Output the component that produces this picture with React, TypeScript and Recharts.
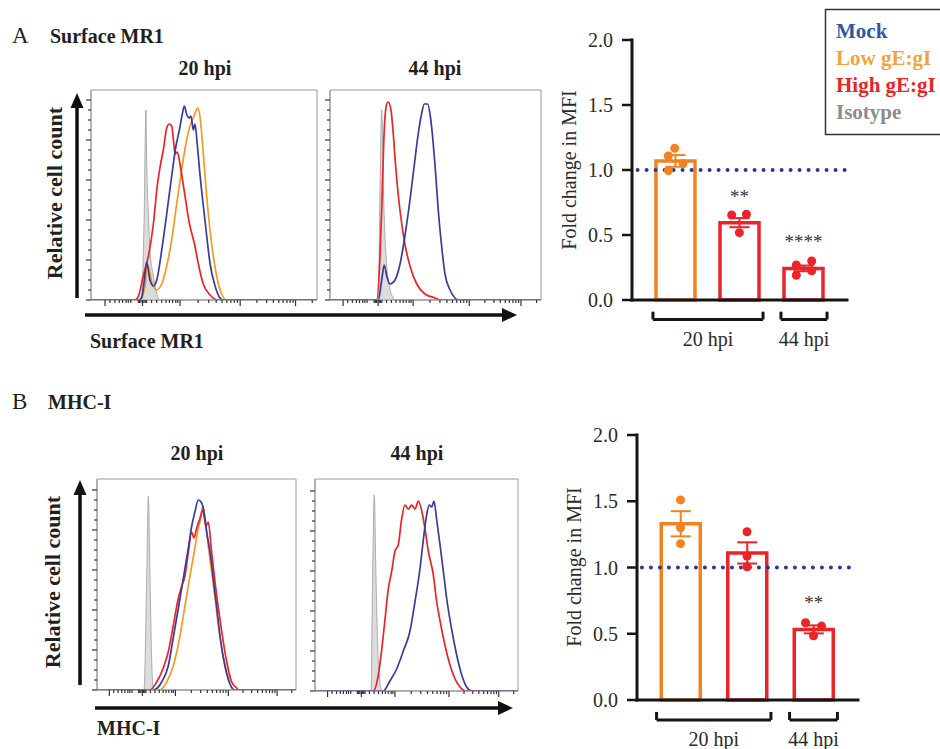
import React from 'react';
import {
  ComposedChart, Line, Area, Bar, Scatter, XAxis, YAxis,
  ReferenceLine, ReferenceArea, ErrorBar, LabelList, Cell,
} from 'recharts';

const SERIF = "'Liberation Serif', 'Times New Roman', serif";

const conditions = ['Mock', 'Low gE:gI', 'High gE:gI', 'Isotype'];
const timepoints = ['20 hpi', '44 hpi'];
const panelTitles = ['Surface MR1', 'MHC-I'];

// histogram axis ticks (transformed fluorescence, 0-100 across the plot)
const histXTicks = [6.2, 8.4, 10.6, 12.5, 14, 15.5, 16.5, 17.6, 20.9, 21.5, 22.1, 22.8, 23.4, 24, 24.6,
  26.8, 29.1, 31.3, 33.2, 34.7, 36.1, 37.5, 38.4, 39.4, 47.4, 52.1, 55.4, 58, 60.1, 61.9, 63.4, 64.8, 66,
  73.4, 77.7, 80.7, 83.1, 85, 86.7, 88.1, 89.4, 90.5, 97.9];
const histXMajor = [6.2, 22.8, 39.4, 66, 90.5];
const histYTicks = [0, 5, 10, 15, 20, 25, 30, 35, 40, 45, 50, 55, 60, 65, 70, 75, 80, 85, 90, 95, 100];
const histYMajor = [0, 20, 40, 60, 80, 100];

// A: surface MR1, 20 hpi  ([channel, % of max])
const mr1Iso20 = [[0, 0], [20.9, 0], [22.4, 3], [23.5, 40], [24.3, 95], [24.6, 72], [25.4, 42], [26.1, 25], [27.6, 12], [29.1, 3], [30.5, 0], [100, 0]];
const mr1Low20 = [[0, 0], [21.5, 0], [23.9, 7], [25, 18], [26.9, 9], [28.8, 5], [31.3, 8], [33.5, 17], [35.7, 30], [37.9, 48], [40.1, 65], [42.3, 80], [43.8, 87], [45.6, 92], [47.2, 96], [48.2, 92], [49, 83], [50.4, 63], [51.9, 43], [53.4, 28], [55.6, 12], [57.8, 3], [60, 0], [100, 0]];
const mr1High20 = [[0, 0], [19.5, 0], [21, 2], [23.1, 12], [25.4, 22], [27.6, 38], [29.3, 57], [30.8, 68], [32, 75], [33.5, 86], [34.6, 88], [35.7, 87], [36.3, 82], [37.2, 73], [38.2, 74], [39.5, 67], [41.2, 55], [43.4, 39], [46, 27], [47.5, 18], [49.7, 8], [52.7, 2.5], [56, 0], [100, 0]];
const mr1Mock20 = [[0, 0], [21, 0], [22.4, 1], [23.6, 10], [24.6, 19], [26.1, 10], [27.6, 7], [29.1, 10], [31.3, 25], [33.5, 43], [35.7, 62], [37.6, 77], [39.1, 85], [40.4, 93], [41.3, 97], [42.3, 93], [43.5, 91], [44.2, 92], [45.3, 85], [46, 88], [47, 78], [48.2, 63], [49.7, 47], [51.2, 32], [52.7, 18], [54.9, 7], [57.1, 1], [58.5, 0], [100, 0]];

// A: surface MR1, 44 hpi
const mr1Iso44 = [[0, 0], [22.9, 0], [23.7, 55], [24.5, 95], [25.3, 55], [26.4, 25], [27.6, 10], [30, 1], [31, 0], [100, 0]];
const mr1High44 = [[0, 0], [22.1, 0], [23.7, 22], [24.8, 55], [25.7, 85], [26.9, 98], [27.6, 99], [28.9, 95], [30, 83], [31.1, 67], [32.4, 52], [34, 38], [35.5, 28], [37.9, 17], [41.1, 8], [45, 3], [49.8, 1], [52.1, 0], [100, 0]];
const mr1Mock44 = [[0, 0], [22.9, 0], [24.5, 10], [25.7, 17.5], [26.9, 12], [28.4, 8], [30.8, 10], [33.2, 18], [35.5, 32], [37.9, 50], [40, 68], [41.8, 83], [43.4, 93], [44.7, 98], [46.3, 98], [47.4, 93], [48.5, 83], [49.8, 67], [51.3, 45], [52.9, 27], [54.5, 13], [56.9, 5], [59.2, 1], [60.8, 0], [100, 0]];

// B: MHC-I, 20 hpi
const mhcIso20 = [[0, 0], [23.6, 0], [25, 57], [25.8, 97], [26.6, 57], [27.5, 14], [28.3, 0], [100, 0]];
const mhcLow20 = [[0, 0], [31.7, 0], [35, 4], [38.3, 12], [41.7, 27], [44.2, 42], [46.7, 57], [49.2, 71], [50.9, 81], [52.3, 87], [53.1, 92], [54.3, 86], [55.9, 72], [57.6, 59], [59.3, 46], [61, 32], [63.5, 16], [66, 6], [68.5, 0], [100, 0]];
const mhcHigh20 = [[0, 0], [26.6, 0], [30, 4], [33.3, 11], [35.8, 19], [38.3, 32], [40.9, 46], [42.6, 52], [44.2, 57], [45.9, 69], [47.6, 79], [48.7, 76], [50.1, 81], [51.8, 86], [53.1, 90], [54.8, 82], [55.9, 84], [57.6, 69], [59.3, 54], [61, 41], [62.7, 29], [65.2, 14], [67.7, 4], [70.2, 1], [71, 0], [100, 0]];
const mhcMock20 = [[0, 0], [28.3, 0], [32.5, 4], [35.8, 12], [38.3, 26], [40.9, 41], [43.4, 56], [45.9, 71], [47.6, 82], [49.2, 89], [50.9, 95], [52.3, 94], [53.4, 91], [55.1, 79], [56.8, 69], [58.4, 56], [60.2, 41], [61.8, 27], [64.3, 12], [66.8, 3], [69.3, 0], [100, 0]];

// B: MHC-I, 44 hpi
const mhcIso44 = [[0, 0], [27.6, 0], [28.4, 58], [29.2, 98], [30, 58], [31.2, 15], [32.9, 0], [100, 0]];
const mhcHigh44 = [[0, 0], [28.7, 0], [31.2, 8], [32.9, 21], [34.5, 36], [36.1, 51], [37.8, 60], [39.4, 70], [41, 73], [42.7, 86], [44.3, 93], [46, 91], [47.6, 93], [49.3, 91], [50.9, 95], [52.6, 90], [54.2, 81], [55.8, 70], [58.3, 58], [59.9, 45], [61.6, 35], [64, 23], [66.5, 13], [69, 6], [71.4, 2], [74.7, 0], [100, 0]];
const mhcMock44 = [[0, 0], [33.6, 0], [36.9, 5], [40.2, 11], [43.5, 20], [46.8, 30], [49.3, 45], [51.7, 61], [53.3, 75], [55, 88], [56.3, 93], [57.5, 92], [58.6, 95], [59.9, 86], [61.6, 73], [63.2, 60], [64.9, 46], [67.3, 31], [69.8, 18], [72.3, 8], [74.7, 2], [77.2, 0], [100, 0]];

// fold change in MFI (bars = mean, error = SEM, dots = replicates)
const barX = [1, 2, 3];
const barTreatment = ['Low gE:gI', 'High gE:gI', 'High gE:gI'];
const foldTicks = [0, 0.5, 1, 1.5, 2];
const groups = [{ label: '20 hpi', first: 1, last: 2 }, { label: '44 hpi', first: 3, last: 3 }];

const mr1Mean = [1.07, 0.595, 0.243];
const mr1Sem = [0.045, 0.035, 0.022];
const mr1Sig = ['', '**', '****'];
const mr1Dots = [[1.167, 1.108, 1.05, 0.995], [0.654, 0.66, 0.518], [0.27, 0.3, 0.19, 0.225]];

const mhcMean = [1.33, 1.11, 0.533];
const mhcSem = [0.095, 0.08, 0.03];
const mhcSig = ['', '', '**'];
const mhcDots = [[1.51, 1.3, 1.18], [1.27, 1.087, 1.006], [0.583, 0.558, 0.485]];

const LINE = { Mock: '#393c9b', 'Low gE:gI': '#f59a23', 'High gE:gI': '#ec2327' };
const BAR = { 'Low gE:gI': '#f4821f', 'High gE:gI': '#ec2327' };
const LEGEND = { Mock: '#2f56a6', 'Low gE:gI': '#f2a33a', 'High gE:gI': '#ec2327', Isotype: '#8c8c8c' };

const mergeSeries = (series: Record<string, number[][]>) => {
  const rows: any[] = [];
  Object.entries(series).forEach(([key, pts]) => pts.forEach(([x, y]) => rows.push({ x, [key]: y })));
  return rows.sort((a, b) => a.x - b.x);
};

const XTick = (p: any) => {
  const len = histXMajor.includes(p.payload.value) ? 6 : 3;
  return <line x1={p.x} x2={p.x} y1={p.y} y2={p.y + len} stroke="#333" strokeWidth={1.2} />;
};
const YTick = (p: any) => {
  const len = histYMajor.includes(p.payload.value) ? 5 : 3;
  return <line x1={p.x} x2={p.x - len} y1={p.y} y2={p.y} stroke="#333" strokeWidth={1.2} />;
};

const Histogram = ({ iso, low, high, mock, left, top, width, height, yMax }: any) => {
  const series: Record<string, number[][]> = { iso, high, mock };
  if (low) series.low = low;
  const rows = mergeSeries(series);
  return (
    <div style={{ position: 'absolute', left, top }}>
      <ComposedChart width={width} height={height} data={rows} margin={{ top: 1, right: 1, left: 0, bottom: 0 }}>
        <XAxis type="number" dataKey="x" domain={[0, 100]} ticks={histXTicks} interval={0} allowDataOverflow
          height={6} tickSize={0} tickMargin={0} tickLine={false} axisLine={{ stroke: '#999' }} tick={XTick} />
        <YAxis type="number" domain={[0, yMax]} ticks={histYTicks} interval={0} allowDataOverflow
          width={6} tickSize={0} tickMargin={0} tickLine={false} axisLine={{ stroke: '#999' }} tick={YTick} />
        <ReferenceArea x1={0} x2={100} y1={0} y2={yMax} fill="none" stroke="#9a9a9a" strokeWidth={1} />
        <Area type="monotone" dataKey="iso" connectNulls fill="#dcdcdc" fillOpacity={1} stroke="#acacac"
          strokeWidth={1} dot={false} activeDot={false} isAnimationActive={false} />
        {low && (
          <Line type="monotone" dataKey="low" connectNulls stroke={LINE['Low gE:gI']} strokeWidth={1.7}
            dot={false} activeDot={false} isAnimationActive={false} />
        )}
        <Line type="monotone" dataKey="high" connectNulls stroke={LINE['High gE:gI']} strokeWidth={1.7}
          dot={false} activeDot={false} isAnimationActive={false} />
        <Line type="monotone" dataKey="mock" connectNulls stroke={LINE.Mock} strokeWidth={1.7}
          dot={false} activeDot={false} isAnimationActive={false} />
      </ComposedChart>
    </div>
  );
};

const jitter = [[-0.02, -0.12, 0.11, -0.12], [-0.13, 0.1, -0.01], [-0.12, 0.12, -0.12, 0.12]];
const jitterB = [[0, 0, 0], [0, 0, 0], [-0.12, 0.12, 0]];

const dotShape = (p: any) => <circle cx={p.cx} cy={p.cy} r={4.5} fill={p.fill} />;

const FoldChart = ({ means, sems, sigs, dots, jit, xDomain, refSpan, left, top, width, height, bottom }: any) => {
  const rows = barX.map((x, i) => ({
    x,
    mean: means[i],
    errLow: barTreatment[i] === 'Low gE:gI' ? sems[i] : undefined,
    errHigh: barTreatment[i] === 'High gE:gI' ? sems[i] : undefined,
    sig: sigs[i],
  }));
  const lowDots: any[] = [];
  const highDots: any[] = [];
  dots.forEach((vals: number[], i: number) =>
    vals.forEach((v, j) => (barTreatment[i] === 'Low gE:gI' ? lowDots : highDots).push({ x: barX[i] + jit[i][j], y: v })));
  const pad = 0.36;
  const bTop = -0.09;
  const bBot = -0.15;
  const brk = { stroke: '#151515', strokeWidth: 3, ifOverflow: 'visible' as const };
  return (
    <div style={{ position: 'absolute', left, top }}>
      <ComposedChart width={width} height={height} data={rows} margin={{ top: 10, right: 12, left: 0, bottom }}>
        <XAxis type="number" dataKey="x" domain={xDomain} ticks={barX} allowDataOverflow tick={false}
          tickLine={false} height={1} axisLine={{ stroke: '#151515', strokeWidth: 3, strokeLinecap: 'square' }} />
        <XAxis xAxisId="dots" type="number" dataKey="x" domain={xDomain} allowDataOverflow hide />
        <YAxis type="number" domain={[0, 2]} ticks={foldTicks} interval={0} width={72} tickSize={10} tickMargin={9}
          tickFormatter={(v: number) => v.toFixed(1)}
          axisLine={{ stroke: '#151515', strokeWidth: 3, strokeLinecap: 'square' }}
          tickLine={{ stroke: '#151515', strokeWidth: 2.5 }}
          tick={{ fill: '#2a2a2a', fontSize: 20, fontFamily: SERIF }} />
        <ReferenceLine segment={[{ x: refSpan[0], y: 1 }, { x: refSpan[1], y: 1 }]} stroke="#2b3990"
          strokeWidth={4} strokeDasharray="0 9" strokeLinecap="round" />
        <Bar dataKey="mean" barSize={39} fill="none" strokeWidth={3.5} isAnimationActive={false}>
          {rows.map((r, i) => <Cell key={i} stroke={BAR[barTreatment[i]]} fill="none" />)}
          <ErrorBar dataKey="errLow" width={10} stroke={BAR['Low gE:gI']} strokeWidth={2} />
          <ErrorBar dataKey="errHigh" width={10} stroke={BAR['High gE:gI']} strokeWidth={2} />
          <LabelList dataKey="sig" position="top" offset={20} fill="#333" fontSize={19} fontFamily={SERIF} />
        </Bar>
        <Scatter xAxisId="dots" data={lowDots} dataKey="y" fill={BAR['Low gE:gI']} shape={dotShape} isAnimationActive={false} />
        <Scatter xAxisId="dots" data={highDots} dataKey="y" fill={BAR['High gE:gI']} shape={dotShape} isAnimationActive={false} />
        {groups.map((g) => [
          <ReferenceLine key={g.label + 'l'} segment={[{ x: g.first - pad, y: bTop }, { x: g.first - pad, y: bBot }]} {...brk} />,
          <ReferenceLine key={g.label + 'h'} segment={[{ x: g.first - pad, y: bBot }, { x: g.last + pad, y: bBot }]} {...brk}
            label={{ value: g.label, position: 'bottom', offset: 12, fill: '#2a2a2a', fontSize: 20, fontFamily: SERIF }} />,
          <ReferenceLine key={g.label + 'r'} segment={[{ x: g.last + pad, y: bTop }, { x: g.last + pad, y: bBot }]} {...brk} />,
        ])}
      </ComposedChart>
    </div>
  );
};

const Arrow = ({ x1, y1, x2, y2, head }: any) => {
  const vertical = x1 === x2;
  const pts = vertical
    ? `${x2},${y2} ${x2 - 6.5},${y2 + head} ${x2 + 6.5},${y2 + head}`
    : `${x2},${y2} ${x2 - head},${y2 - 7} ${x2 - head},${y2 + 7}`;
  return (
    <g>
      <line x1={x1} y1={y1} x2={vertical ? x2 : x2 - head + 2} y2={vertical ? y2 + head - 2 : y2} stroke="#111" strokeWidth={3.5} />
      <polygon points={pts} fill="#111" />
    </g>
  );
};

export default function App() {
  const ink = '#231f20';
  return (
    <div style={{ position: 'absolute', left: 0, top: 0, width: 940, height: 749, overflow: 'hidden', background: '#fff' }}>
      <svg width={940} height={749} style={{ position: 'absolute', left: 0, top: 0 }} fontFamily={SERIF}>
        <text x={12} y={43} fontSize={23} fill={ink}>A</text>
        <text x={50} y={43} fontSize={20} fontWeight="bold" fill={ink}>{panelTitles[0]}</text>
        <text x={205} y={75} fontSize={20} fontWeight="bold" fill={ink} textAnchor="middle">{timepoints[0]}</text>
        <text x={435} y={75} fontSize={20} fontWeight="bold" fill={ink} textAnchor="middle">{timepoints[1]}</text>
        <text transform="translate(62,193) rotate(-90)" fontSize={22} fontWeight="bold" fill={ink} textAnchor="middle">Relative cell count</text>
        <text x={90} y={348} fontSize={20} fontWeight="bold" fill={ink}>{panelTitles[0]}</text>
        <Arrow x1={77} y1={298} x2={77} y2={93} head={15} />
        <Arrow x1={85} y1={315} x2={517} y2={315} head={15} />
        <text transform="translate(576,170) rotate(-90)" fontSize={20} fill="#2a2a2a" textAnchor="middle">Fold change in MFI</text>

        <text x={12} y={409} fontSize={23} fill={ink}>B</text>
        <text x={48} y={409} fontSize={20} fontWeight="bold" fill={ink}>{panelTitles[1]}</text>
        <text x={197} y={460} fontSize={20} fontWeight="bold" fill={ink} textAnchor="middle">{timepoints[0]}</text>
        <text x={417} y={460} fontSize={20} fontWeight="bold" fill={ink} textAnchor="middle">{timepoints[1]}</text>
        <text transform="translate(60,582) rotate(-90)" fontSize={22} fontWeight="bold" fill={ink} textAnchor="middle">Relative cell count</text>
        <text x={97} y={735} fontSize={20} fontWeight="bold" fill={ink}>{panelTitles[1]}</text>
        <Arrow x1={80} y1={685} x2={80} y2={480} head={15} />
        <Arrow x1={95} y1={708} x2={513} y2={708} head={15} />
        <text transform="translate(581,567) rotate(-90)" fontSize={20} fill="#2a2a2a" textAnchor="middle">Fold change in MFI</text>

        <rect x={825.5} y={9.5} width={130} height={125} fill="#fff" stroke="#333" strokeWidth={1.5} />
        {conditions.map((c, i) => (
          <text key={c} x={836} y={38 + i * 27} fontSize={21} fontWeight="bold" fill={LEGEND[c]}>{c}</text>
        ))}
      </svg>

      <Histogram iso={mr1Iso20} low={mr1Low20} high={mr1High20} mock={mr1Mock20} left={85} top={89} width={233} height={217} yMax={105} />
      <Histogram iso={mr1Iso44} high={mr1High44} mock={mr1Mock44} left={324} top={89} width={218} height={217} yMax={105} />
      <Histogram iso={mhcIso20} low={mhcLow20} high={mhcHigh20} mock={mhcMock20} left={91} top={478} width={206} height={218} yMax={105.5} />
      <Histogram iso={mhcIso44} high={mhcHigh44} mock={mhcMock44} left={309} top={478} width={210} height={219} yMax={106} />

      <FoldChart means={mr1Mean} sems={mr1Sem} sigs={mr1Sig} dots={mr1Dots} jit={jitter} xDomain={[0.3125, 3.672]}
        refSpan={[0.4, 3.65]} left={560} top={30} width={299} height={326} bottom={55} />
      <FoldChart means={mhcMean} sems={mhcSem} sigs={mhcSig} dots={mhcDots} jit={jitterB} xDomain={[0.346, 3.669]}
        refSpan={[0.42, 3.59]} left={565} top={425} width={305} height={324} bottom={48} />
    </div>
  );
}
